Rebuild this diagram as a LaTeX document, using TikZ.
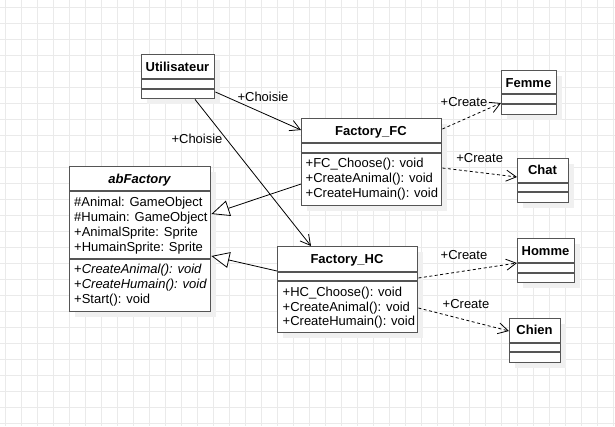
\documentclass[tikz,border=0pt]{standalone}
\usepackage{fontspec}
\setmainfont{Liberation Sans}
\usetikzlibrary{arrows.meta,calc}
\definecolor{gridc}{RGB}{234,234,234}
\definecolor{boxc}{RGB}{85,85,85}
\definecolor{shadc}{RGB}{240,240,240}
\tikzset{
  classbox/.style={draw=boxc, line width=1.4pt, fill=white, inner sep=0pt, anchor=north west},
  divider/.style={draw=boxc, line width=1.4pt},
  shadowbox/.style={fill=shadc, draw=none},
  ctitle/.style={font=\fontsize{13}{15}\selectfont\bfseries, inner sep=0pt, anchor=base},
  member/.style={font=\fontsize{13}{15}\selectfont, inner sep=0pt, anchor=base west},
  lbl/.style={font=\fontsize{13}{15}\selectfont, inner sep=0pt, anchor=base},
  assoc/.style={draw=black, line width=0.8pt, -{Straight Barb[length=10pt,width=11pt]}},
  dep/.style={assoc, dash pattern=on 3pt off 2.5pt},
  inherit/.style={draw=black, line width=0.8pt, -{Triangle[length=18pt,width=16pt,fill=white]}},
}
% name, x, y, w, h, divider1, divider2
\newcommand\umlclass[7]{%
  \fill[shadowbox] ($(#2,#3)+(6,6)$) rectangle ++(#4,#5);
  \node[classbox, minimum width=#4pt, minimum height=#5pt] (#1) at (#2,#3) {};
  \draw[divider] ($(#1.north west)+(0,#6)$) -- ($(#1.north east)+(0,#6)$);
  \draw[divider] ($(#1.north west)+(0,#7)$) -- ($(#1.north east)+(0,#7)$);
}
\begin{document}
\begin{tikzpicture}[x=1pt,y=-1pt]
\useasboundingbox (0,0) rectangle (615,426);
\fill[white] (0,0) rectangle (615,426);
\foreach \x in {5,21,...,613} \draw[gridc, line width=1pt] (\x,0) -- (\x,426);
\foreach \y in {7,23,...,423} \draw[gridc, line width=1pt] (0,\y) -- (615,\y);

\umlclass{u}{141}{54}{73}{44}{25}{35}
\umlclass{fc}{301}{118}{140}{87}{25}{35}
\umlclass{hc}{277}{246}{140}{86}{26}{35}
\umlclass{ab}{69}{166}{141}{145}{25}{93}
\umlclass{femme}{501}{70}{55}{44}{24}{34}
\umlclass{chat}{517}{158}{51}{44}{25}{34}
\umlclass{homme}{517}{238}{57}{44}{25}{35}
\umlclass{chien}{509}{318}{51}{44}{25}{34}

% titles
\node[ctitle] (u-t) at (177.5,71.2) {Utilisateur};
\node[ctitle] (fc-t) at (371,135.7) {Factory\_FC};
\node[ctitle] (hc-t) at (347,263) {Factory\_HC};
\node[ctitle, font=\fontsize{13}{15}\selectfont\bfseries\itshape] (ab-t) at (139.5,183.8) {abFactory};
\node[ctitle] (femme-t) at (528.5,87.2) {Femme};
\node[ctitle] (chat-t) at (542.5,174.7) {Chat};
\node[ctitle] (homme-t) at (545.5,255.2) {Homme};
\node[ctitle] (chien-t) at (534.5,334.7) {Chien};

% abFactory members
\node[member] (ab-a1) at (74,206.5) {\#Animal: GameObject};
\node[member] (ab-a2) at (74,221.5) {\#Humain: GameObject};
\node[member] (ab-a3) at (74,236.5) {+AnimalSprite: Sprite};
\node[member] (ab-a4) at (74,251.5) {+HumainSprite: Sprite};
\node[member] (ab-o1) at (74,273.7) {+\textit{CreateAnimal(): void}};
\node[member] (ab-o2) at (74,288.7) {+\textit{CreateHumain(): void}};
\node[member] (ab-o3) at (74,303) {+Start(): void};

% Factory_FC members
\node[member] (fc-o1) at (305.5,167.7) {+FC\_Choose(): void};
\node[member] (fc-o2) at (305.5,182.7) {+CreateAnimal(): void};
\node[member] (fc-o3) at (305.5,197.7) {+CreateHumain(): void};

% Factory_HC members
\node[member] (hc-o1) at (282.5,296.4) {+HC\_Choose(): void};
\node[member] (hc-o2) at (282.5,311.4) {+CreateAnimal(): void};
\node[member] (hc-o3) at (282.5,325.7) {+CreateHumain(): void};

% connectors
\draw[assoc] ($(u.north east)+(0,38)$) -- ($(fc.north west)+(0,12)$);
\draw[assoc] ($(u.south west)+(54,0)$) -- ($(hc.north west)+(34,0)$);
\draw[inherit] ($(fc.north west)+(0,66)$) -- ($(ab.north east)+(0,48)$);
\draw[inherit] ($(hc.north west)+(0,25)$) -- ($(ab.north east)+(0,90)$);
\draw[dep] ($(fc.north east)+(0,11)$) -- ($(femme.north west)+(0,33)$);
\draw[dep] ($(fc.north east)+(0,50)$) -- ($(chat.north west)+(0,19)$);
\draw[dep] ($(hc.north east)+(0,32)$) -- ($(homme.north west)+(0,25)$);
\draw[dep] ($(hc.north east)+(0,62)$) -- ($(chien.north west)+(0,13)$);

% labels
\node[lbl] (l1) at (263,101.7) {+Choisie};
\node[lbl] (l2) at (197,143) {+Choisie};
\node[lbl] (l3) at (464,106.7) {+Create};
\node[lbl] (l4) at (479.7,162) {+Create};
\node[lbl] (l5) at (464,259.7) {+Create};
\node[lbl] (l6) at (466,308.7) {+Create};
\end{tikzpicture}
\end{document}
